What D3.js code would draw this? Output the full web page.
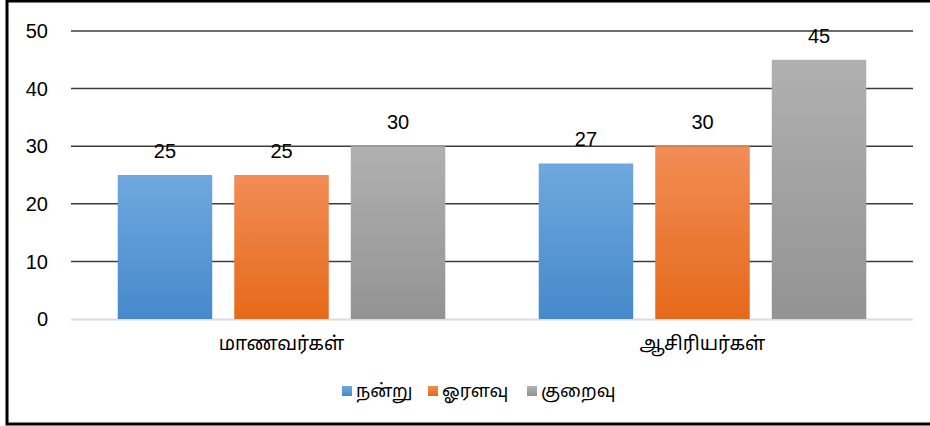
<!DOCTYPE html>
<html>
<head>
<meta charset="utf-8">
<script src="https://cdn.jsdelivr.net/npm/d3@7"></script>
<style>
    body { margin: 0; background: #fff; }
    svg { display: block; }
    .tick-label { font-family: 'Liberation Sans', Arial, sans-serif; font-size: 20px; fill: #000; }
    .val-label { font-family: 'Liberation Sans', Arial, sans-serif; font-size: 20px; fill: #000; }
    .tamil { font-family: 'Noto Sans Tamil', 'Noto Serif Tamil', 'Latha', 'Nirmala UI', 'Lohit Tamil', sans-serif; fill: #000; }
</style>
</head>
<body>
<svg class="chart"></svg>
<script>

const categories = ['மாணவர்கள்', 'ஆசிரியர்கள்']
const seriesNames = ['நன்று', 'ஓரளவு', 'குறைவு']
const nanru = [25, 27]
const oralavu = [25, 30]
const kuraivu = [30, 45]
const yTicks = [0, 10, 20, 30, 40, 50]

const seriesValues = [nanru, oralavu, kuraivu]
const colours = [
    { top: '#6fa8de', bottom: '#4689ca' },
    { top: '#f28d56', bottom: '#e5691a' },
    { top: '#b0b0b0', bottom: '#939393' }
]

const width = 930
const height = 426

const padding = {
    top: 31,
    right: 17,
    bottom: 107,
    left: 71
}

const svg = d3.select('.chart')
    .attr('width', width)
    .attr('height', height)

const defs = svg.append('defs')

seriesNames.forEach((s, i) => {
    const g = defs.append('linearGradient')
        .attr('id', 'grad' + i)
        .attr('x1', 0).attr('y1', 0)
        .attr('x2', 0).attr('y2', 1)
    g.append('stop').attr('offset', '0%').attr('stop-color', colours[i].top)
    g.append('stop').attr('offset', '100%').attr('stop-color', colours[i].bottom)
})

const yScale = d3.scaleLinear()
    .domain([ 0, 50 ])
    .range([ height - padding.bottom, padding.top ])

const x0 = d3.scaleBand()
    .domain(categories)
    .range([ padding.left, width - padding.right ])
    .padding(0)

const x1 = d3.scaleBand()
    .domain(seriesNames)
    .range([ 0, x0.bandwidth() ])
    .paddingInner(0.189)
    .paddingOuter(0.401)

// gridlines
svg.selectAll('.co-yline')
    .data(yTicks.filter(d => d > 0))
    .enter()
    .append('line')
    .attr('x1', padding.left)
    .attr('x2', width - padding.right)
    .attr('y1', d => yScale(d))
    .attr('y2', d => yScale(d))
    .attr('stroke', '#3c3c3c')
    .attr('stroke-width', 1.5)

svg.append('line')
    .attr('x1', padding.left)
    .attr('x2', width - padding.right)
    .attr('y1', yScale(0) + 0.5)
    .attr('y2', yScale(0) + 0.5)
    .attr('stroke', '#d9dce4')
    .attr('stroke-width', 2)

svg.selectAll('.tick-label')
    .data(yTicks)
    .enter()
    .append('text')
    .attr('class', 'tick-label')
    .attr('x', 48)
    .attr('y', d => yScale(d))
    .attr('dy', '0.36em')
    .attr('text-anchor', 'end')
    .text(d => d)

// bars
const groups = svg.selectAll('.cat')
    .data(categories)
    .enter()
    .append('g')
    .attr('transform', d => `translate(${x0(d)}, 0)`)

groups.each(function(cat, ci) {
    const g = d3.select(this)
    seriesNames.forEach((s, si) => {
        const v = seriesValues[si][ci]
        g.append('rect')
            .attr('x', x1(s))
            .attr('y', yScale(v))
            .attr('width', x1.bandwidth())
            .attr('height', yScale(0) - yScale(v))
            .attr('fill', `url(#grad${si})`)
        g.append('text')
            .attr('class', 'val-label')
            .attr('x', x1(s) + x1.bandwidth()/2)
            .attr('y', yScale(v) - 17)
            .attr('text-anchor', 'middle')
            .text(v)
    })
    g.append('text')
        .attr('class', 'tamil')
        .attr('x', x0.bandwidth()/2)
        .attr('y', 350)
        .attr('text-anchor', 'middle')
        .attr('font-size', 19)
        .text(cat)
})

// legend
const legendX = [342, 428, 527]
const legend = svg.selectAll('.legend')
    .data(seriesNames)
    .enter()
    .append('g')
    .attr('transform', (d, i) => `translate(${legendX[i]}, 386)`)

legend.append('rect')
    .attr('width', 10)
    .attr('height', 10)
    .attr('fill', (d, i) => `url(#grad${i})`)

legend.append('text')
    .attr('class', 'tamil')
    .attr('x', 14)
    .attr('y', 11)
    .attr('font-size', 18)
    .text(d => d)

// frame
svg.append('rect')
    .attr('x', 7)
    .attr('y', 1)
    .attr('width', width)
    .attr('height', 423)
    .attr('fill', 'none')
    .attr('stroke', '#000')
    .attr('stroke-width', 3)

</script>
</body>
</html>
